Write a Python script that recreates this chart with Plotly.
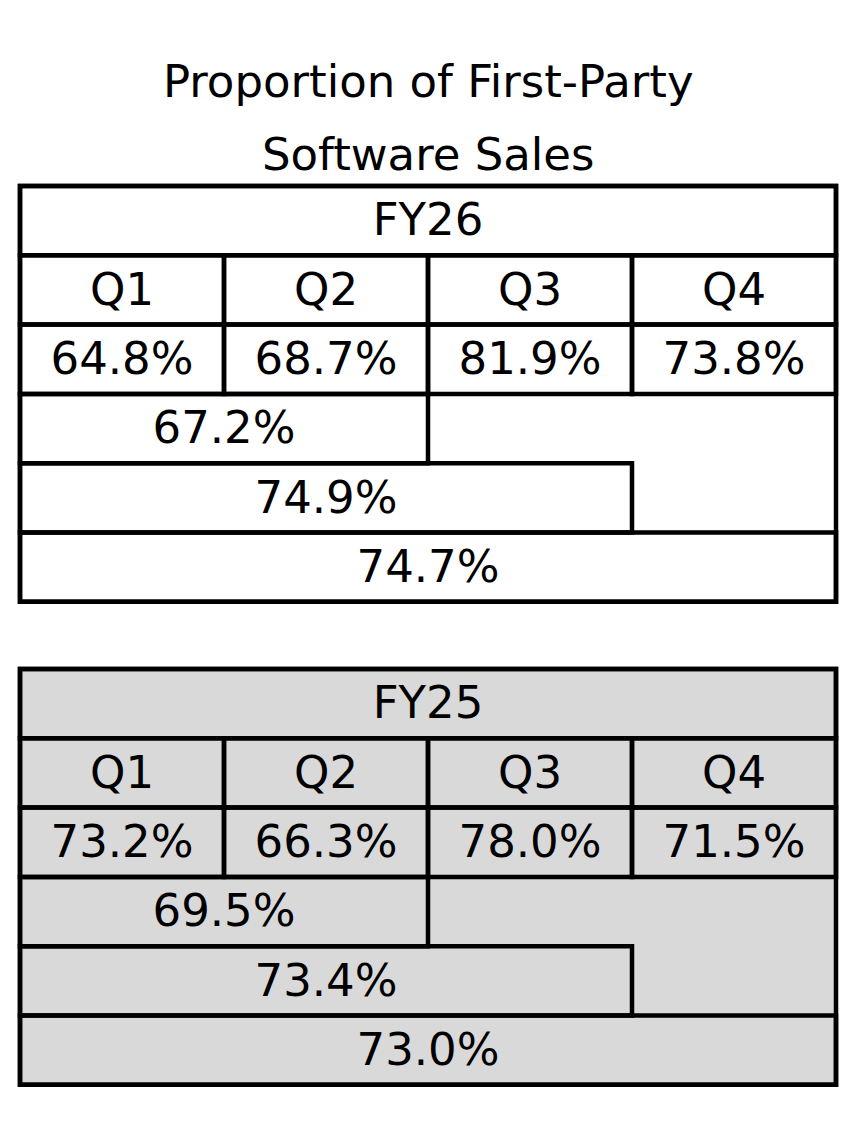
import plotly.graph_objects as go

# datos de la tabla
titulo = ["Proportion of First-Party", "Software Sales"]
anios = ["FY26", "FY25"]
trimestres = ["Q1", "Q2", "Q3", "Q4"]
ventas_fy26 = [64.8, 68.7, 81.9, 73.8]
ventas_fy25 = [73.2, 66.3, 78.0, 71.5]
acumulado_fy26 = [67.2, 74.9, 74.7]   # H1, 9 meses, año completo
acumulado_fy25 = [69.5, 73.4, 73.0]
trimestres_acumulados = [2, 3, 4]
colores_fondo = ["white", "#d9d9d9"]

ANCHO, ALTO = 858, 1139
IZQ, ARRIBA = 12, 178          # px dentro de la figura (la página añade 8px)
COL, FILA = 204, 69.3          # px por trimestre / por fila
SEPARACION = 6.97              # filas entre una tabla y otra
TITULO_Y = [73, 146]           # px, centro de cada línea del título
AJUSTE_TEXTO = 0.55            # centro vertical del texto dentro de la celda
LINEA = dict(color="black", width=4.5)
FUENTE = dict(family="DejaVu Sans", size=45, color="black")

fig = go.Figure()
formas = []

tablas = [(anios[0], ventas_fy26, acumulado_fy26, colores_fondo[0]),
          (anios[1], ventas_fy25, acumulado_fy25, colores_fondo[1])]

for t, (anio, trim, acum, fondo) in enumerate(tablas):
    y0 = t * SEPARACION
    n = len(trimestres)
    filas = 3 + len(acum)
    # fondo y borde exterior
    formas.append(dict(type="rect", x0=0, x1=n, y0=y0, y1=y0 + filas,
                       fillcolor=fondo, line=LINEA, layer="below"))
    xs, ys, textos = [], [], []
    # encabezado del año
    formas.append(dict(type="rect", x0=0, x1=n, y0=y0, y1=y0 + 1, line=LINEA))
    xs.append(n / 2); ys.append(y0 + AJUSTE_TEXTO); textos.append(anio)
    # trimestres y valores
    for i, (q, v) in enumerate(zip(trimestres, trim)):
        for f, txt in [(1, q), (2, f"{v:.1f}%")]:
            formas.append(dict(type="rect", x0=i, x1=i + 1, y0=y0 + f, y1=y0 + f + 1, line=LINEA))
            xs.append(i + 0.5); ys.append(y0 + f + AJUSTE_TEXTO); textos.append(txt)
    # acumulados
    for k, (span, v) in enumerate(zip(trimestres_acumulados, acum)):
        f = 3 + k
        formas.append(dict(type="rect", x0=0, x1=span, y0=y0 + f, y1=y0 + f + 1, line=LINEA))
        xs.append(span / 2); ys.append(y0 + f + AJUSTE_TEXTO); textos.append(f"{v:.1f}%")
    fig.add_trace(go.Scatter(x=xs, y=ys, text=textos, mode="text",
                             textposition="middle center", textfont=FUENTE,
                             hoverinfo="skip", showlegend=False))

# titulo en dos lineas, centrado sobre la tabla
anotaciones = []
for linea, py in zip(titulo, TITULO_Y):
    anotaciones.append(dict(text=linea, x=len(trimestres) / 2, xref="x",
                            y=(py - ARRIBA) / FILA, yref="y",
                            showarrow=False, xanchor="center", yanchor="middle",
                            font=FUENTE))

fig.update_layout(
    width=ANCHO, height=ALTO,
    margin=dict(l=0, r=0, t=0, b=0),
    paper_bgcolor="white", plot_bgcolor="white",
    shapes=formas, annotations=anotaciones,
    xaxis=dict(range=[-IZQ / COL, (ANCHO - IZQ) / COL], visible=False, fixedrange=True),
    yaxis=dict(range=[(ALTO - ARRIBA) / FILA, -ARRIBA / FILA], visible=False, fixedrange=True),
)

fig.write_html("out.html")
